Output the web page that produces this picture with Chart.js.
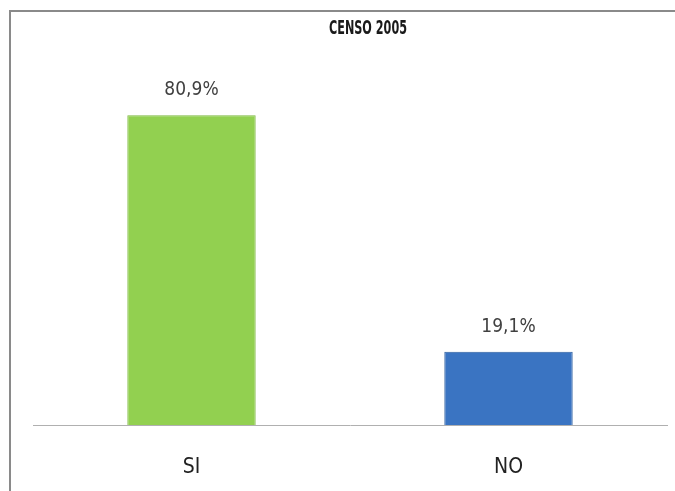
<!DOCTYPE html>
<html>
<head>
<meta charset="utf-8">
<script src="https://cdn.jsdelivr.net/npm/chart.js@4/dist/chart.umd.min.js"></script>
<style>
  html, body { margin: 0; padding: 0; background: #fff; overflow: hidden; }
  #wrap { position: relative; width: 675px; height: 491px; }
  #frame { position: absolute; left: 9px; top: 10px; width: 700px; height: 500px;
           border-left: 2px solid #8a8a8a; border-top: 2px solid #8a8a8a; }
  canvas { position: absolute; left: 0; top: 0; }
</style>
</head>
<body>
<div id="wrap">
  <div id="frame"></div>
  <canvas id="chart" width="675" height="491"></canvas>
</div>
<script>
// Chart data
const chartTitle = 'CENSO 2005';
const categories = ['SI', 'NO'];
const values = [80.9, 19.1];
const valueLabels = ['80,9%', '19,1%'];
const barColors = ['#92d050', '#3a74c2'];
const barBorders = ['#7cb83e', '#2c5d9e'];

const FONT = '"DejaVu Sans Condensed", "Liberation Sans Narrow", "Liberation Sans", sans-serif';

// Title (sits a bit right of centre, like the original) and value labels
const labelPlugin = {
    id: 'labels',
    afterDatasetsDraw(chart) {
        const ctx = chart.ctx;
        const meta = chart.getDatasetMeta(0);
        ctx.save();
        ctx.textAlign = 'center';
        ctx.textBaseline = 'middle';

        ctx.font = 'bold 19px ' + FONT;
        ctx.fillStyle = '#1a1a1a';
        ctx.fillText(chartTitle, 368, 29, 78);

        ctx.font = '19px ' + FONT;
        ctx.fillStyle = '#404040';
        meta.data.forEach((bar, i) => {
            ctx.fillText(valueLabels[i], bar.x, bar.y - 25);
        });
        ctx.restore();
    }
};

new Chart(document.getElementById('chart'), {
    type: 'bar',
    data: {
        labels: categories,
        datasets: [{
            data: values,
            backgroundColor: barColors,
            borderColor: barBorders,
            borderWidth: 1,
            barPercentage: 0.81,
            categoryPercentage: 0.5
        }]
    },
    options: {
        responsive: false,
        animation: false,
        layout: { padding: { left: 33, right: 8, top: 42, bottom: 13 } },
        plugins: {
            legend: { display: false },
            tooltip: { enabled: false },
            title: { display: false }
        },
        scales: {
            x: {
                grid: { display: false, drawTicks: false },
                border: { display: true, color: '#b0b0b0', width: 1 },
                ticks: { color: '#222', font: { family: FONT, size: 21 }, padding: 30 },
                afterFit(scale) { scale.height = 53; }
            },
            y: {
                display: false,
                min: 0,
                max: 100
            }
        }
    },
    plugins: [labelPlugin]
});
</script>
</body>
</html>
